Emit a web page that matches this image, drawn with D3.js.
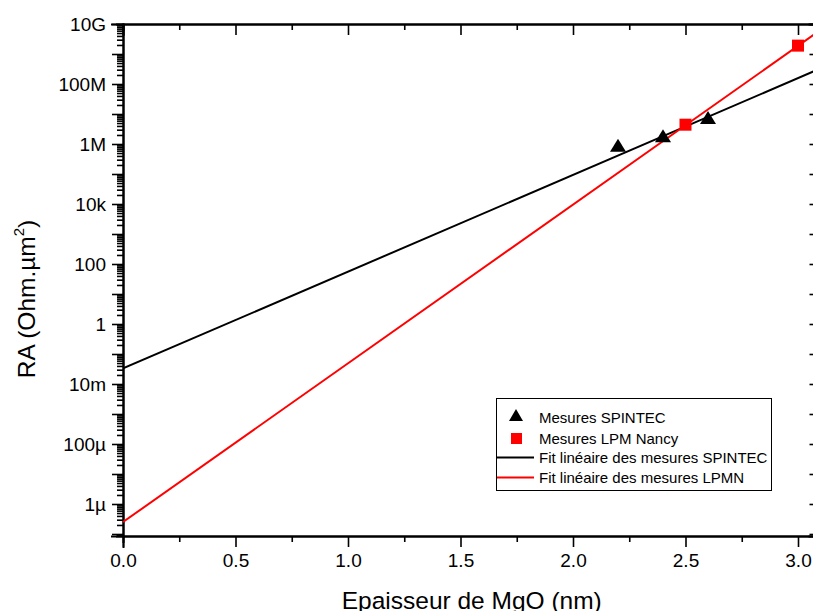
<!DOCTYPE html>
<html>
<head>
<meta charset="utf-8">
<script src="https://cdn.jsdelivr.net/npm/d3@7"></script>
<style>
  html, body { margin: 0; padding: 0; background: #fff; overflow: hidden; }
  svg { display: block; font-family: "Liberation Sans", Arial, sans-serif; }
</style>
</head>
<body>
<svg id="chart" width="813" height="611"></svg>
<script>
// ---- data ----
const spintecX = [2.2, 2.4, 2.6];
const spintecRA = [7.7e5, 1.6e6, 6.5e6];
const lpmX = [2.5, 3.0];
const lpmRA = [4.4e6, 1.9e9];
const fitX = [0, 3.1];
const spintecFit = [0.033, 3.3e8];
const lpmnFit = [2.5e-7, 6.3e9];
const xTicks = [0.0, 0.5, 1.0, 1.5, 2.0, 2.5, 3.0];
const xTickLabels = ["0.0", "0.5", "1.0", "1.5", "2.0", "2.5", "3.0"];
const yLabelValues = [1e-6, 1e-4, 1e-2, 1, 1e2, 1e4, 1e6, 1e8, 1e10];
const yTickLabels = ["1\u00b5", "100\u00b5", "10m", "1", "100", "10k", "1M", "100M", "10G"];
const legendLabels = ["Mesures SPINTEC", "Mesures LPM Nancy",
  "Fit lin\u00e9aire des mesures SPINTEC", "Fit lin\u00e9aire des mesures LPMN"];

const svg = d3.select("#chart");
const L = 123, R = 820.5, T = 24, B = 536;
const x = d3.scaleLinear().domain([0, 3.1]).range([L, R]);
const y = d3.scaleLog().domain([Math.pow(10, -7.067), 1e10]).range([B, T]);

// clip
svg.append("defs").append("clipPath").attr("id", "clip")
  .append("rect").attr("x", L).attr("y", T).attr("width", R - L).attr("height", B - T);

// tick values
const decades = d3.range(-7, 11).map(e => Math.pow(10, e));
const minorY = [];
for (let e = -8; e < 10; e++) for (let k = 2; k <= 9; k++) {
  const v = k * Math.pow(10, e);
  if (v >= y.domain()[0] && v <= 1e10) minorY.push(v);
}
const minorX = d3.range(0.25, 3.1, 0.5);

const labelMap = new Map(yLabelValues.map((v, i) => [v.toExponential(), yTickLabels[i]]));

function styleAxis(g) {
  g.select(".domain").attr("stroke", "#000").attr("stroke-width", 2);
  g.selectAll(".tick line").attr("stroke", "#000").attr("stroke-width", 1.6);
  g.selectAll(".tick text").attr("fill", "#000").attr("font-size", 19);
}

// left axis: minor then major
svg.append("g").attr("transform", `translate(${L},0)`)
  .call(d3.axisLeft(y).tickValues(minorY).tickSize(6).tickFormat(""))
  .call(styleAxis);
svg.append("g").attr("transform", `translate(${L},0)`)
  .call(d3.axisLeft(y).tickValues(decades).tickSize(11).tickPadding(6)
    .tickFormat(d => labelMap.get(d.toExponential()) || ""))
  .call(styleAxis);

// right axis (inward)
svg.append("g").attr("transform", `translate(${R},0)`)
  .call(d3.axisLeft(y).tickValues(minorY).tickSize(6).tickFormat(""))
  .call(styleAxis);
svg.append("g").attr("transform", `translate(${R},0)`)
  .call(d3.axisLeft(y).tickValues(decades).tickSize(11).tickFormat(""))
  .call(styleAxis);

// bottom axis
svg.append("g").attr("transform", `translate(0,${B})`)
  .call(d3.axisBottom(x).tickValues(minorX).tickSize(6).tickFormat(""))
  .call(styleAxis);
svg.append("g").attr("transform", `translate(0,${B})`)
  .call(d3.axisBottom(x).tickValues(xTicks).tickSize(11).tickPadding(7)
    .tickFormat((d, i) => xTickLabels[i]))
  .call(styleAxis);

// top axis (inward)
svg.append("g").attr("transform", `translate(0,${T})`)
  .call(d3.axisBottom(x).tickValues(minorX).tickSize(6).tickFormat(""))
  .call(styleAxis);
svg.append("g").attr("transform", `translate(0,${T})`)
  .call(d3.axisBottom(x).tickValues(xTicks).tickSize(11).tickFormat(""))
  .call(styleAxis);

svg.selectAll(".domain").attr("stroke-linecap", "square");

// fit lines
const plot = svg.append("g").attr("clip-path", "url(#clip)");
const line = d3.line().x(d => x(d[0])).y(d => y(d[1]));
plot.append("path").datum(fitX.map((v, i) => [v, spintecFit[i]]))
  .attr("d", line).attr("fill", "none").attr("stroke", "#000").attr("stroke-width", 2);
plot.append("path").datum(fitX.map((v, i) => [v, lpmnFit[i]]))
  .attr("d", line).attr("fill", "none").attr("stroke", "#ff0000").attr("stroke-width", 2);

// markers
function triPath(w, h) {
  return `M0,${-2 * h / 3}L${w / 2},${h / 3}L${-w / 2},${h / 3}Z`;
}
plot.selectAll(".tri").data(spintecX).join("path")
  .attr("transform", (d, i) => `translate(${x(d)},${y(spintecRA[i])})`)
  .attr("d", triPath(16, 13)).attr("fill", "#000");
plot.selectAll(".sq").data(lpmX).join("rect")
  .attr("x", d => x(d) - 6).attr("y", (d, i) => y(lpmRA[i]) - 6)
  .attr("width", 12).attr("height", 12).attr("fill", "#ff0000");

// axis titles
svg.append("text").attr("x", (L + R) / 2).attr("y", 609)
  .attr("text-anchor", "middle").attr("font-size", 24.5).attr("fill", "#000")
  .text("Epaisseur de MgO (nm)");
const yt = svg.append("text").attr("transform", "translate(35,299) rotate(-90)")
  .attr("text-anchor", "middle").attr("font-size", 24.5).attr("fill", "#000");
yt.append("tspan").text("RA (Ohm.\u00b5m");
yt.append("tspan").attr("font-size", 15).attr("dy", -11).text("2");
yt.append("tspan").attr("dy", 11).text(")");

// legend
const lg = svg.append("g");
lg.append("rect").attr("x", 496.5).attr("y", 398.5).attr("width", 275).attr("height", 92)
  .attr("fill", "#fff").attr("stroke", "#000").attr("stroke-width", 1);
const rowY = [417, 438.5, 457.5, 477.5];
lg.append("path").attr("transform", `translate(516,${rowY[0]})`)
  .attr("d", triPath(14, 12)).attr("fill", "#000");
lg.append("rect").attr("x", 511).attr("y", rowY[1] - 5.5).attr("width", 11).attr("height", 11)
  .attr("fill", "#ff0000");
lg.append("line").attr("x1", 497).attr("x2", 534).attr("y1", rowY[2]).attr("y2", rowY[2])
  .attr("stroke", "#000").attr("stroke-width", 2);
lg.append("line").attr("x1", 497).attr("x2", 534).attr("y1", rowY[3]).attr("y2", rowY[3])
  .attr("stroke", "#ff0000").attr("stroke-width", 2);
lg.selectAll(".lt").data(legendLabels).join("text")
  .attr("x", 539).attr("y", (d, i) => rowY[i] + 5.5)
  .attr("font-size", 15).attr("fill", "#000").text(d => d);
</script>
</body>
</html>
